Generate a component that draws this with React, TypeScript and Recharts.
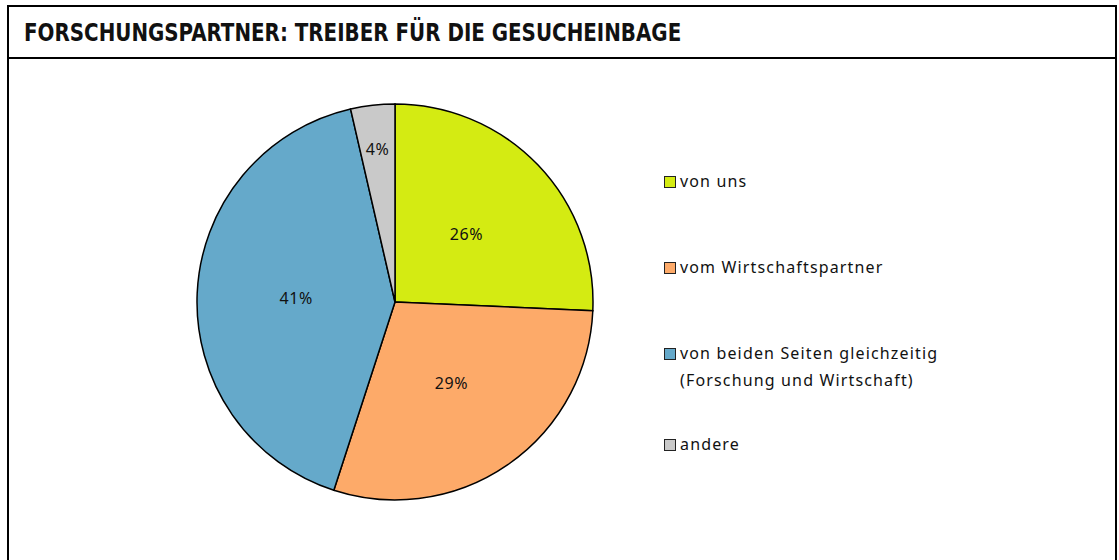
import { Cell, Legend, Pie, PieChart } from "recharts";

const categories = [
  "von uns",
  "vom Wirtschaftspartner",
  "von beiden Seiten gleichzeitig\n(Forschung und Wirtschaft)",
  "andere",
];
const shares = [25.7, 29.3, 41.4, 3.6];
const shareLabels = ["26%", "29%", "41%", "4%"];
const colors = ["#D4EB12", "#FDAA69", "#65A9CA", "#C9C9C9"];

const data = categories.map((name, i) => ({
  name,
  value: shares[i],
  label: shareLabels[i],
}));

const FONT = "'Noto Sans', sans-serif";
const RAD = Math.PI / 180;
// gaps under each legend entry, taken from the reference layout
const legendGaps = [59, 59, 37, 0];

function SliceLabel(props: any) {
  const { cx, cy, midAngle, outerRadius, percent, index } = props;
  const r = percent < 0.08 ? outerRadius * 0.78 : outerRadius * 0.5;
  const x = cx + r * Math.cos(-midAngle * RAD);
  const y = cy + r * Math.sin(-midAngle * RAD);
  return (
    <text
      x={x}
      y={y}
      textAnchor="middle"
      dominantBaseline="central"
      fill="#111"
      fontFamily={FONT}
      fontSize={16}
      letterSpacing={0.6}
    >
      {shareLabels[index]}
    </text>
  );
}

function LegendBox() {
  return (
    <div style={{ fontFamily: FONT, fontSize: 16, color: "#111", letterSpacing: 1.15 }}>
      {categories.map((c, i) => (
        <div
          key={c}
          style={{
            display: "flex",
            alignItems: "flex-start",
            marginBottom: legendGaps[i],
            lineHeight: "27px",
          }}
        >
          <span
            style={{
              width: 10,
              height: 10,
              marginTop: 8,
              marginRight: 4,
              border: "1px solid #222",
              background: colors[i],
              flex: "none",
            }}
          />
          <span style={{ whiteSpace: "pre" }}>{c}</span>
        </div>
      ))}
    </div>
  );
}

export default function App() {
  return (
    <div
      style={{
        position: "absolute",
        left: 0,
        top: 0,
        width: 1119,
        height: 560,
        overflow: "hidden",
        background: "#fff",
      }}
    >
      <div
        style={{
          position: "absolute",
          left: 7,
          top: 5,
          width: 1110,
          height: 620,
          boxSizing: "border-box",
          border: "2px solid #000",
        }}
      />
      <div
        style={{
          position: "absolute",
          left: 7,
          top: 57,
          width: 1110,
          height: 2,
          background: "#000",
        }}
      />
      <div
        style={{
          position: "absolute",
          left: 24,
          top: 18,
          fontFamily: "'DejaVu Sans Condensed', 'DejaVu Sans', sans-serif",
          fontStretch: "condensed",
          fontWeight: 700,
          fontSize: 24,
          lineHeight: "30px",
          color: "#111",
          whiteSpace: "nowrap",
          transform: "scaleX(0.92)",
          transformOrigin: "left center",
        }}
      >
        FORSCHUNGSPARTNER: TREIBER FÜR DIE GESUCHEINBAGE
      </div>
      <div style={{ position: "absolute", left: 0, top: 0 }}>
        <PieChart width={1119} height={560} margin={{ top: 0, right: 0, bottom: 0, left: 0 }}>
          <Pie
            data={data}
            dataKey="value"
            nameKey="name"
            cx={395}
            cy={302}
            outerRadius={198}
            startAngle={90}
            endAngle={-270}
            stroke="#000"
            strokeWidth={1.5}
            label={SliceLabel}
            labelLine={false}
            isAnimationActive={false}
          >
            {data.map((d, i) => (
              <Cell key={d.name} fill={colors[i]} />
            ))}
          </Pie>
          <Legend
            content={() => <LegendBox />}
            wrapperStyle={{ position: "absolute", left: 664, top: 168, width: 360 }}
          />
        </PieChart>
      </div>
    </div>
  );
}
